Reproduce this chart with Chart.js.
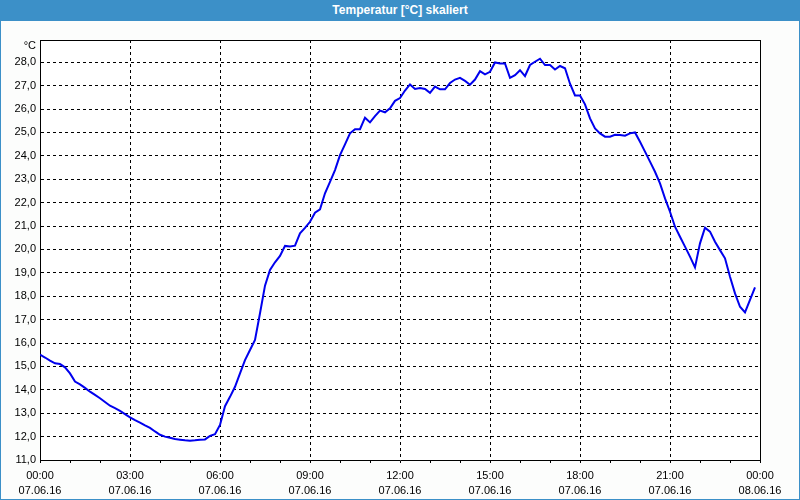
<!DOCTYPE html>
<html>
<head>
<meta charset="utf-8">
<script src="https://cdn.jsdelivr.net/npm/chart.js@4.4.0/dist/chart.umd.min.js"></script>
<style>
  body { margin: 0; background: #fcfdfc; }
  #wrap { position: relative; width: 800px; height: 500px; overflow: hidden; }
  #chart { position: absolute; left: 0; top: 0; }
  #titleBar {
    position: absolute; left: 0; top: 0; width: 800px; height: 21px;
    background: #3c90c8; color: #fff; text-align: center;
    font: bold 12px "Liberation Sans", Arial, sans-serif; line-height: 21px;
  }
  #frame {
    position: absolute; left: 0; top: 0; width: 800px; height: 500px;
    box-sizing: border-box; border: 1px solid #3c90c8; border-top: none;
    pointer-events: none;
  }
</style>
</head>
<body>
<div id="wrap">
  <canvas id="chart" width="800" height="500"></canvas>
  <div id="titleBar">Temperatur [°C] skaliert</div>
  <div id="frame"></div>
</div>
<script>
// Temperature readings every 10 minutes, 07.06.16 00:00 - 23:50
const stepMinutes = 10;
const temps = [
  15.50, 15.38, 15.25, 15.13, 15.10, 14.96, 14.70, 14.35, 14.23, 14.08,
  13.92, 13.78, 13.64, 13.48, 13.32, 13.22, 13.10, 12.96, 12.82, 12.70,
  12.60, 12.48, 12.37, 12.22, 12.08, 12.00, 11.95, 11.90, 11.87, 11.84,
  11.82, 11.84, 11.87, 11.88, 12.03, 12.10, 12.50, 13.30, 13.70, 14.13,
  14.70, 15.27, 15.70, 16.13, 17.27, 18.45, 19.12, 19.45, 19.72, 20.15,
  20.12, 20.16, 20.69, 20.92, 21.18, 21.57, 21.71, 22.40, 22.89, 23.39,
  24.03, 24.49, 24.96, 25.14, 25.14, 25.63, 25.43, 25.70, 25.93, 25.86,
  26.03, 26.35, 26.47, 26.79, 27.05, 26.86, 26.90, 26.86, 26.69, 26.96,
  26.84, 26.84, 27.11, 27.26, 27.33, 27.20, 27.04, 27.26, 27.62, 27.48,
  27.59, 27.99, 27.95, 27.95, 27.33, 27.45, 27.66, 27.41, 27.88, 28.02,
  28.15, 27.88, 27.88, 27.69, 27.84, 27.74, 27.08, 26.58, 26.58, 26.20,
  25.60, 25.17, 24.96, 24.82, 24.82, 24.90, 24.89, 24.86, 24.96, 25.00,
  24.60, 24.18, 23.75, 23.32, 22.82, 22.18, 21.61, 20.97, 20.54, 20.12,
  19.69, 19.23, 20.26, 20.93, 20.76, 20.33, 19.97, 19.62, 18.83, 18.12,
  17.55, 17.31, 17.84, 18.38
];

const xTickTimes = ['00:00', '03:00', '06:00', '09:00', '12:00', '15:00', '18:00', '21:00', '00:00'];
const xTickDates = ['07.06.16', '07.06.16', '07.06.16', '07.06.16', '07.06.16', '07.06.16', '07.06.16', '07.06.16', '08.06.16'];

const yMin = 11;
const yMax = 28.95;
const yUnit = '°C';

const labelFont = { family: '"Liberation Sans", Arial, sans-serif', size: 11, lineHeight: 15 / 11 };

// background + frame + unit label
const framePlugin = {
  id: 'frame',
  beforeDraw(chart) {
    const { ctx, chartArea: a } = chart;
    ctx.save();
    ctx.fillStyle = '#fcfdfc';
    ctx.fillRect(0, 0, chart.width, chart.height);
    ctx.fillStyle = '#ffffff';
    ctx.fillRect(a.left, a.top, a.right - a.left, a.bottom - a.top);
    ctx.restore();
  },
  afterDraw(chart) {
    const { ctx, chartArea: a } = chart;
    ctx.save();
    ctx.strokeStyle = '#000';
    ctx.lineWidth = 1;
    ctx.beginPath();
    ctx.moveTo(a.left, a.top + 0.5);
    ctx.lineTo(a.right + 1, a.top + 0.5);
    ctx.moveTo(a.right + 0.5, a.top);
    ctx.lineTo(a.right + 0.5, a.bottom + 1);
    ctx.stroke();
    ctx.fillStyle = '#000';
    ctx.font = '11px "Liberation Sans", Arial, sans-serif';
    ctx.textAlign = 'right';
    ctx.textBaseline = 'middle';
    ctx.fillText(yUnit, a.left - 4, a.top + 6);
    ctx.restore();
  }
};

new Chart(document.getElementById('chart'), {
  type: 'line',
  data: {
    datasets: [{
      data: temps.map((t, i) => ({ x: i * stepMinutes, y: t })),
      borderColor: '#0000ee',
      borderWidth: 2,
      pointRadius: 0,
      tension: 0,
      fill: false
    }]
  },
  options: {
    responsive: false,
    animation: false,
    devicePixelRatio: 1,
    layout: { padding: { top: 40, right: 40, left: 0, bottom: 0 } },
    plugins: { legend: { display: false }, tooltip: { enabled: false }, title: { display: false } },
    scales: {
      x: {
        type: 'linear',
        min: 0,
        max: 1440,
        afterFit(scale) { scale.height = 40; },
        ticks: {
          stepSize: 60,
          autoSkip: false,
          maxRotation: 0,
          padding: 5,
          color: '#000',
          font: labelFont,
          callback: v => v % 180 === 0 ? [xTickTimes[v / 180], xTickDates[v / 180]] : ''
        },
        grid: {
          color: ctx => (ctx.tick && ctx.tick.value % 180 === 0) ? '#000' : 'rgba(0,0,0,0)',
          tickColor: '#000',
          tickLength: 3,
          tickBorderDash: [],
          lineWidth: 1
        },
        border: { display: true, color: '#000', width: 1, dash: [3, 3] }
      },
      y: {
        min: yMin,
        max: yMax,
        afterFit(scale) { scale.width = 40; },
        ticks: {
          stepSize: 1,
          includeBounds: false,
          padding: 4,
          color: '#000',
          font: labelFont,
          callback: v => v.toFixed(1).replace('.', ',')
        },
        grid: {
          color: '#000',
          drawTicks: false,
          lineWidth: 1
        },
        border: { display: true, color: '#000', width: 1, dash: [3, 3] }
      }
    }
  },
  plugins: [framePlugin]
});
</script>
</body>
</html>
